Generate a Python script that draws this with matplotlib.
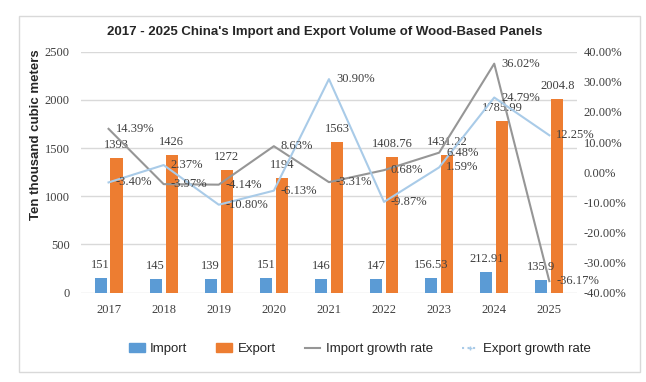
import matplotlib
matplotlib.use("Agg")
import matplotlib.pyplot as plt
from matplotlib.lines import Line2D
from matplotlib.patches import Patch, Rectangle
import numpy as np

years = ["2017", "2018", "2019", "2020", "2021", "2022", "2023", "2024", "2025"]
import_volume = [151, 145, 139, 151, 146, 147, 156.53, 212.91, 135.9]
export_volume = [1393, 1426, 1272, 1194, 1563, 1408.76, 1431.22, 1785.99, 2004.8]
import_growth = [14.39, -3.97, -4.14, 8.63, -3.31, 0.68, 6.48, 36.02, -36.17]
export_growth = [-3.40, 2.37, -10.80, -6.13, 30.90, -9.87, 1.59, 24.79, 12.25]

SERIF = ["Liberation Serif", "DejaVu Serif"]
SANS = ["Liberation Sans", "DejaVu Sans"]
TXT = "#404040"
FS = 9


def fmt_num(v):
    return f"{v:g}"


def pct(v):
    s = f"{v:.2f}%"
    return "0.00%" if s == "-0.00%" else s


def plot_chart():
    fig = plt.figure(figsize=(6.46, 3.82), dpi=100)
    fig.patches.append(Rectangle((19 / 646, 1 - 372 / 382), 621 / 646, 356 / 382,
                                 transform=fig.transFigure, fill=False,
                                 edgecolor="#d9d9d9", linewidth=1))
    ax = fig.add_axes([0.1254, 0.2338, 0.7676, 0.6309])
    ax2 = ax.twinx()

    x = np.arange(len(years))
    w = 0.22
    off = 0.145
    ax.bar(x - off, import_volume, w, color="#5b9bd5", zorder=2)
    ax.bar(x + off, export_volume, w, color="#ed7d31", zorder=2)

    for i in range(len(years)):
        ax.annotate(fmt_num(import_volume[i]), (x[i] - off, import_volume[i]),
                    xytext=(0, 5), textcoords="offset points", ha="center",
                    va="bottom", fontsize=FS, family=SERIF, color=TXT)
        ax.annotate(fmt_num(export_volume[i]), (x[i] + off, export_volume[i]),
                    xytext=(0, 5), textcoords="offset points", ha="center",
                    va="bottom", fontsize=FS, family=SERIF, color=TXT)

    ig = np.array(import_growth) / 100
    eg = np.array(export_growth) / 100
    ax2.plot(x, ig, color="#969696", linewidth=1.5, zorder=3)
    ax2.plot(x, eg, color="#a9cbe8", linewidth=1.5, zorder=3)
    for i in range(len(years)):
        ax2.annotate(pct(import_growth[i]), (x[i], ig[i]), xytext=(5, 0),
                     textcoords="offset points", ha="left", va="center",
                     fontsize=FS, family=SERIF, color=TXT)
        ax2.annotate(pct(export_growth[i]), (x[i], eg[i]), xytext=(5, 0),
                     textcoords="offset points", ha="left", va="center",
                     fontsize=FS, family=SERIF, color=TXT)

    ax.set_xlim(-0.5, 8.5)
    ax.set_ylim(0, 2500)
    ax.set_yticks(range(0, 2501, 500))
    ax.set_xticks(x)
    ax.set_xticklabels(years)
    rticks = np.arange(-0.4, 0.41, 0.1)
    ax2.set_ylim(-0.4, 0.4)
    ax2.set_yticks(rticks)
    ax2.set_yticklabels([pct(v * 100) for v in rticks])

    ax.grid(axis="y", color="#d9d9d9", linewidth=1, zorder=0)
    ax.set_axisbelow(True)
    for a in (ax, ax2):
        for s in a.spines.values():
            s.set_visible(False)
        a.tick_params(length=0, labelsize=FS, labelcolor=TXT)
        for lab in a.get_xticklabels() + a.get_yticklabels():
            lab.set_family(SERIF)
    ax.tick_params(axis="x", pad=8)
    ax.tick_params(axis="y", pad=8)
    ax2.tick_params(axis="y", pad=5)

    fig.text(0.503, 1 - 32 / 382,
             "2017 - 2025 China's Import and Export Volume of Wood-Based Panels",
             ha="center", va="center", fontsize=9.5, fontweight="bold",
             family=SANS, color="#262626")
    fig.text(36 / 646, 1 - 135 / 382, "Ten thousand cubic meters", rotation=90,
             ha="center", va="center", fontsize=9.5, fontweight="bold",
             family=SANS, color="#262626")

    handles = [Patch(color="#5b9bd5"), Patch(color="#ed7d31"),
               Line2D([], [], color="#969696", linewidth=1.5),
               Line2D([], [], color="#a9cbe8", linewidth=1.5, linestyle=":",
                      marker="+", markersize=3)]
    labels = ["Import", "Export", "Import growth rate", "Export growth rate"]
    fig.legend(handles, labels, loc="center", bbox_to_anchor=(0.557, 1 - 349 / 382),
               ncol=4, frameon=False, prop={"family": SANS, "size": 9.5},
               handlelength=1.2, columnspacing=2.2, handletextpad=0.4,
               labelcolor="#262626")

    fig.savefig("out.png", dpi=100)


def main():
    plot_chart()


if __name__ == "__main__":
    main()
